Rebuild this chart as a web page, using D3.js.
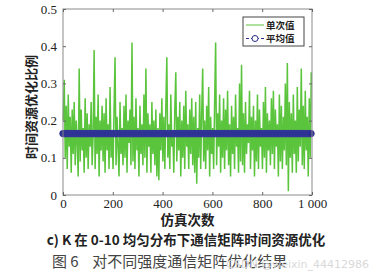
<!DOCTYPE html>
<html>
<head>
<meta charset="utf-8">
<script src="https://cdn.jsdelivr.net/npm/d3@7"></script>
<style>
  body { margin: 0; background: #fff; }
  svg { display: block; }
</style>
</head>
<body>
<div id="chart-wrap"></div>
<script>
// single-run optimisation ratio, one reading every 4 runs
const singleValues = [
  0.20, 0.31, 0.10, 0.24, 0.07, 0.27, 0.13, 0.21, 0.06, 0.23,
  0.11, 0.25, 0.08, 0.20, 0.14, 0.05, 0.34, 0.09, 0.23, 0.12,
  0.18, 0.06, 0.26, 0.10, 0.22, 0.07, 0.19, 0.13, 0.25, 0.08,
  0.16, 0.39, 0.07, 0.21, 0.11, 0.27, 0.05, 0.20, 0.12, 0.24,
  0.09, 0.22, 0.06, 0.26, 0.12, 0.19, 0.07, 0.29, 0.10, 0.17,
  0.07, 0.23, 0.37, 0.08, 0.21, 0.13, 0.05, 0.25, 0.11, 0.18,
  0.08, 0.24, 0.10, 0.27, 0.06, 0.20, 0.14, 0.23, 0.08, 0.41,
  0.09, 0.21, 0.07, 0.26, 0.12, 0.18, 0.05, 0.24, 0.11, 0.19,
  0.08, 0.27, 0.10, 0.34, 0.06, 0.22, 0.13, 0.19, 0.06, 0.25,
  0.11, 0.20, 0.08, 0.23, 0.05, 0.18, 0.04, 0.22, 0.12, 0.26,
  0.09, 0.21, 0.07, 0.24, 0.37, 0.10, 0.19, 0.07, 0.27, 0.13,
  0.17, 0.06, 0.23, 0.33, 0.09, 0.21, 0.12, 0.25, 0.05, 0.20,
  0.10, 0.24, 0.07, 0.28, 0.13, 0.19, 0.07, 0.23, 0.11, 0.26,
  0.08, 0.21, 0.06, 0.25, 0.03, 0.18, 0.10, 0.27, 0.07, 0.22,
  0.34, 0.09, 0.20, 0.07, 0.24, 0.12, 0.29, 0.05, 0.21, 0.11,
  0.18, 0.07, 0.25, 0.41, 0.08, 0.22, 0.13, 0.27, 0.06, 0.20,
  0.10, 0.26, 0.07, 0.23, 0.12, 0.28, 0.08, 0.19, 0.05, 0.24,
  0.11, 0.21, 0.07, 0.27, 0.13, 0.18, 0.06, 0.30, 0.09, 0.35,
  0.08, 0.22, 0.06, 0.25, 0.11, 0.19, 0.14, 0.28, 0.07, 0.21,
  0.12, 0.24, 0.05, 0.20, 0.09, 0.27, 0.07, 0.23, 0.13, 0.18,
  0.07, 0.25, 0.10, 0.29, 0.06, 0.22, 0.12, 0.20, 0.08, 0.26,
  0.11, 0.28, 0.07, 0.23, 0.13, 0.19, 0.05, 0.27, 0.09, 0.24,
  0.07, 0.21, 0.12, 0.30, 0.08, 0.355, 0.01, 0.25, 0.10, 0.22,
  0.06, 0.27, 0.11, 0.20, 0.06, 0.29, 0.09, 0.23, 0.13, 0.34,
  0.08, 0.24, 0.07, 0.28, 0.12, 0.21, 0.05, 0.26, 0.10, 0.33
];
const runStep = 4;
const meanValue = 0.165;
const meanRuns = [0, 100, 200, 300, 400, 500, 600, 700, 800, 900, 1000];

const xTicks = [0, 200, 400, 600, 800, 1000];
const xTickLabels = ["0", "200", "400", "600", "800", "1 000"];
const yTicks = [0, 0.1, 0.2, 0.3, 0.4, 0.5];
const yTickLabels = ["0", "0.1", "0.2", "0.3", "0.4", "0.5"];

const legendLabels = ["单次值", "平均值"];
const xTitle = "仿真次数";
const yTitle = "时间资源优化比例";
const caption = "c)  K 在 0-10 均匀分布下通信矩阵时间资源优化";
const figTitle = "图 6    对不同强度通信矩阵优化结果";
const watermark = "CSDN @weixin_44412986";

const width = 371;
const height = 277;
const plot = {left: 63, right: 312, top: 9, bottom: 195};
const green = "#5ac43c";
const navy = "#2a2d8c";
const serif = "Liberation Serif";
const cjk = "Noto Sans CJK SC";

const svg = d3.select("#chart-wrap")
  .append("svg")
  .attr("width", width)
  .attr("height", height);

const x = d3.scaleLinear().domain([0, 1000]).range([plot.left, plot.right]);
const y = d3.scaleLinear().domain([0, 0.5]).range([plot.bottom, plot.top]);

const data = singleValues.map((v, i) => ({run: i * runStep + 1, value: v}));

// green line of single runs
svg.append("path")
  .datum(data)
  .attr("fill", "none")
  .attr("stroke", green)
  .attr("stroke-width", 1.5)
  .attr("stroke-linejoin", "bevel")
  .attr("d", d3.line().x(d => x(d.run)).y(d => y(d.value)));

// mean line with dense circle markers
const meanData = d3.range(0, 1001, 6).map(r => ({run: r, value: meanValue}));
svg.append("path")
  .datum(meanRuns.map(r => ({run: r, value: meanValue})))
  .attr("fill", "none")
  .attr("stroke", navy)
  .attr("stroke-width", 6)
  .attr("d", d3.line().x(d => x(d.run)).y(d => y(d.value)));
svg.append("g")
  .selectAll("circle")
  .data(meanData)
  .join("circle")
  .attr("cx", d => x(d.run))
  .attr("cy", d => y(d.value))
  .attr("r", 3.3)
  .attr("fill", navy)
  .attr("stroke", "#353a9c")
  .attr("stroke-width", 0.8);

// frame
svg.append("rect")
  .attr("x", plot.left).attr("y", plot.top)
  .attr("width", plot.right - plot.left)
  .attr("height", plot.bottom - plot.top)
  .attr("fill", "none")
  .attr("stroke", "#8a8a8a")
  .attr("stroke-width", 1);

// axes, ticks pointing inwards
const axisStyle = g => {
  g.attr("font-family", serif).attr("font-size", 13);
  g.select(".domain").remove();
  g.selectAll(".tick line").attr("stroke", "#666");
  g.selectAll("text")
    .attr("fill", "#222")
    .style("font-family", serif)
    .style("font-size", "13px");
};

svg.append("g")
  .attr("transform", `translate(0,${plot.bottom})`)
  .call(d3.axisBottom(x).tickValues(xTicks).tickSize(-3).tickPadding(4)
    .tickFormat((d, i) => xTickLabels[i]))
  .call(axisStyle);
svg.append("g")
  .attr("transform", `translate(0,${plot.top})`)
  .call(d3.axisTop(x).tickValues(xTicks).tickSize(-3).tickFormat(""))
  .call(axisStyle);
svg.append("g")
  .attr("transform", `translate(${plot.left},0)`)
  .call(d3.axisLeft(y).tickValues(yTicks).tickSize(-3).tickPadding(6)
    .tickFormat((d, i) => yTickLabels[i]))
  .call(axisStyle);
svg.append("g")
  .attr("transform", `translate(${plot.right},0)`)
  .call(d3.axisRight(y).tickValues(yTicks).tickSize(-3).tickFormat(""))
  .call(axisStyle);

// legend
const lg = svg.append("g").attr("transform", "translate(243,17)");
lg.append("rect")
  .attr("width", 61).attr("height", 29)
  .attr("fill", "#fff")
  .attr("stroke", "#444")
  .attr("stroke-width", 1);
lg.append("line")
  .attr("x1", 3).attr("x2", 21).attr("y1", 8).attr("y2", 8)
  .attr("stroke", green).attr("stroke-width", 1);
lg.append("line")
  .attr("x1", 3).attr("x2", 21).attr("y1", 21.5).attr("y2", 21.5)
  .attr("stroke", navy).attr("stroke-width", 1)
  .attr("stroke-dasharray", "3,2");
lg.append("circle")
  .attr("cx", 12).attr("cy", 21.5).attr("r", 3)
  .attr("fill", "#fff").attr("stroke", navy).attr("stroke-width", 1);
lg.selectAll("text.leg")
  .data(legendLabels)
  .join("text")
  .attr("class", "leg")
  .attr("x", 23)
  .attr("y", (d, i) => 11.5 + i * 13.5)
  .style("font-family", cjk)
  .style("font-size", "9.5px")
  .style("font-weight", "bold")
  .attr("fill", "#222")
  .text(d => d);

// titles
svg.append("text")
  .attr("x", (plot.left + plot.right) / 2)
  .attr("y", 225)
  .attr("text-anchor", "middle")
  .style("font-family", cjk)
  .style("font-size", "13.5px")
  .style("font-weight", "bold")
  .attr("fill", "#222")
  .text(xTitle);

svg.append("text")
  .attr("transform", `translate(36,${(plot.top + plot.bottom) / 2 + 5}) rotate(-90)`)
  .attr("text-anchor", "middle")
  .style("font-family", cjk)
  .style("font-size", "13px")
  .style("font-weight", "bold")
  .attr("fill", "#222")
  .text(yTitle);

svg.append("text")
  .attr("x", 186)
  .attr("y", 245)
  .attr("text-anchor", "middle")
  .style("font-family", cjk)
  .style("font-size", "13.5px")
  .style("font-weight", "bold")
  .attr("fill", "#222")
  .text(caption);

svg.append("text")
  .attr("x", 52)
  .attr("y", 267)
  .style("font-family", cjk)
  .style("font-size", "15px")
  .attr("fill", "#444")
  .attr("xml:space", "preserve")
  .style("white-space", "pre")
  .text(figTitle);

svg.append("text")
  .attr("x", 369)
  .attr("y", 268)
  .attr("text-anchor", "end")
  .style("font-family", "DejaVu Sans")
  .style("font-size", "11px")
  .attr("fill", "#d9d9d9")
  .text(watermark);
</script>
</body>
</html>
